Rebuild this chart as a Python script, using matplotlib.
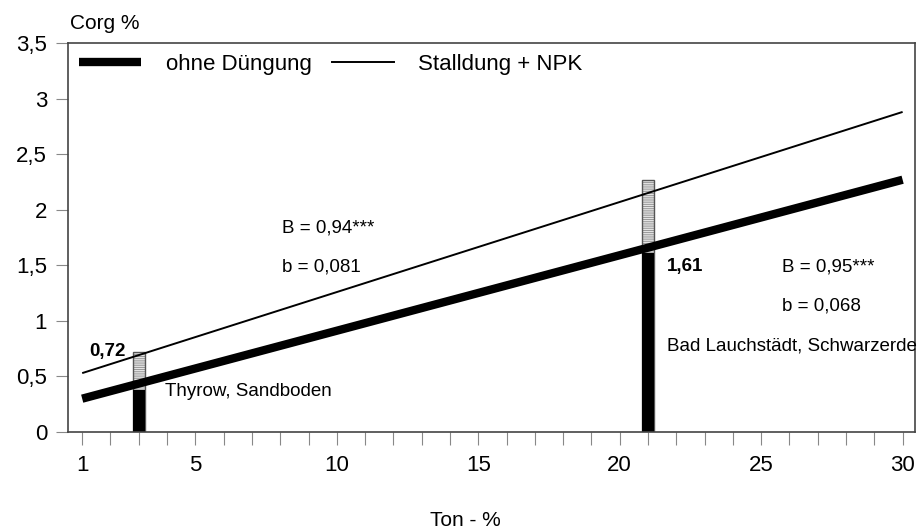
import matplotlib
matplotlib.use("Agg")
import matplotlib.pyplot as plt
from matplotlib.lines import Line2D

plt.rcParams['font.family'] = ['Liberation Sans', 'DejaVu Sans']
plt.rcParams['hatch.linewidth'] = 0.8

# regression lines (Ton-% vs Corg %), end points
ton = [1, 30]
corg_ohne = [0.30, 2.27]
corg_stall = [0.53, 2.88]

# field sites
site_x = [3, 21]
site_ohne = [0.38, 1.61]
site_stall = [0.72, 2.27]

xticks = list(range(1, 31))
xlabels = ['1', '5', '10', '15', '20', '25', '30']
yticks = [0, 0.5, 1, 1.5, 2, 2.5, 3, 3.5]
ylabels = ['0', '0,5', '1', '1,5', '2', '2,5', '3', '3,5']

fig = plt.figure(figsize=(9.17, 5.31), dpi=100)
ax = fig.add_axes([0.0742, 0.1864, 0.924, 0.7326])

bw = 0.44
ax.bar(site_x, [t - b for t, b in zip(site_stall, site_ohne)], bottom=site_ohne,
       width=bw, color='white', edgecolor='#999999', hatch='---------', linewidth=0, zorder=2)
ax.bar(site_x, site_stall, width=bw, fill=False, edgecolor='#555555', linewidth=1.0, zorder=2)
ax.bar(site_x, site_ohne, width=bw, color='black', edgecolor='black', linewidth=0, zorder=2)

ax.plot(ton, corg_stall, color='black', lw=1.4, solid_capstyle='butt', zorder=3)
ax.plot(ton, corg_ohne, color='black', lw=6, solid_capstyle='butt', zorder=3)

ax.set_xlim(0.5, 30.45)
ax.set_ylim(0, 3.5)
ax.set_xticks(xticks)
ax.set_xticklabels([str(t) if str(t) in xlabels else '' for t in xticks], fontsize=16)
ax.set_yticks(yticks)
ax.set_yticklabels(ylabels, fontsize=16)
ax.tick_params(axis='x', direction='out', length=9.5, width=0.8, color='#888888', pad=7)
ax.tick_params(axis='y', direction='out', length=9, width=0.8, color='#888888', pad=6)
for s in ax.spines.values():
    s.set_color('#444444')
    s.set_linewidth(1.2)

handles = [Line2D([], [], color='black', lw=6, solid_capstyle='butt'),
           Line2D([], [], color='black', lw=1.4)]
ax.legend(handles, ['ohne Düngung', 'Stalldung + NPK'], loc='upper left', ncol=2,
          frameon=False, fontsize=16, handlelength=2.8, handletextpad=1.1,
          columnspacing=0.9, borderaxespad=0.1, bbox_to_anchor=(0.0, 1.0))

fs = 13.5
ax.text(8.06, 1.835, 'B = 0,94***', fontsize=fs, va='center')
ax.text(8.06, 1.485, 'b = 0,081', fontsize=fs, va='center')
ax.text(21.66, 1.485, '1,61', fontsize=fs, va='center', fontweight='bold')
ax.text(25.73, 1.485, 'B = 0,95***', fontsize=fs, va='center')
ax.text(25.73, 1.134, 'b = 0,068', fontsize=fs, va='center')
ax.text(21.66, 0.774, 'Bad Lauchstädt, Schwarzerde', fontsize=fs, va='center')
ax.text(2.55, 0.72, '0,72', fontsize=fs, va='center', ha='right', fontweight='bold')
ax.text(3.93, 0.369, 'Thyrow, Sandboden', fontsize=fs, va='center')

fig.text(0.0763, 0.955, 'Corg %', fontsize=15, va='center')
fig.text(0.507, 0.02, 'Ton - %', fontsize=15, ha='center', va='center')

fig.savefig('out.png', dpi=100)
